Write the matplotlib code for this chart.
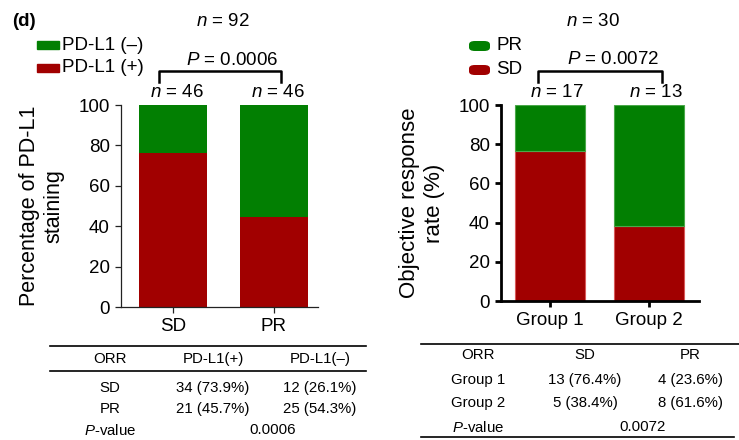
import matplotlib
matplotlib.use("Agg")
import matplotlib.pyplot as plt
from matplotlib.patches import Rectangle, FancyBboxPatch
from matplotlib.lines import Line2D

plt.rcParams['font.family'] = ['Liberation Sans', 'DejaVu Sans']
plt.rcParams['mathtext.fontset'] = 'custom'
plt.rcParams['mathtext.rm'] = 'Liberation Sans'
plt.rcParams['mathtext.it'] = 'Liberation Sans:italic'

GREEN = "#027f02"
RED = "#a10000"

# left panel: PD-L1 staining by response
left_cats = ["SD", "PR"]
left_pos = [76.0, 44.5]          # PD-L1 (+), percent
left_n = [46, 46]
left_total = 92
left_p = "0.0006"

# right panel: objective response by group
right_cats = ["Group 1", "Group 2"]
right_sd = [76.4, 38.4]
right_n = [17, 13]
right_total = 30
right_p = "0.0072"

# tables under the panels
left_header = ["ORR", "PD-L1(+)", "PD-L1(\u2013)"]
left_rows = [["SD", "34 (73.9%)", "12 (26.1%)"],
             ["PR", "21 (45.7%)", "25 (54.3%)"]]
right_header = ["ORR", "SD", "PR"]
right_rows = [["Group 1", "13 (76.4%)", "4 (23.6%)"],
              ["Group 2", "5 (38.4%)", "8 (61.6%)"]]

W, H = 739, 440
fig = plt.figure(figsize=(W / 100, H / 100), dpi=100)


def fx(px):
    return px / W


def fy(py):
    return 1 - py / H


def ftext(x, y, s, **kw):
    kw.setdefault("ha", "center")
    kw.setdefault("va", "center")
    kw.setdefault("fontsize", 10.8)
    fig.text(fx(x), fy(y), s, **kw)


def fline(x0, x1, y, lw=1.2):
    fig.add_artist(Line2D([fx(x0), fx(x1)], [fy(y), fy(y)], color="black", lw=lw))


# ---- left panel
ax1 = fig.add_axes([fx(121), fy(307), fx(318) - fx(121), fy(105) - fy(307)])
x = range(len(left_cats))
neg = [100 - v for v in left_pos]
ax1.bar(x, left_pos, width=0.67, color=RED)
ax1.bar(x, neg, bottom=left_pos, width=0.67, color=GREEN)
ax1.set_xlim(-0.515, 1.436)
ax1.set_ylim(0, 100)
ax1.set_yticks(range(0, 101, 20))
ax1.set_xticks(list(x))
ax1.set_xticklabels(left_cats)
for s in ["top", "right"]:
    ax1.spines[s].set_visible(False)
for s in ["left", "bottom"]:
    ax1.spines[s].set_color("#222222")
    ax1.spines[s].set_linewidth(0.9)
ax1.tick_params(labelsize=13.5, length=4.5, width=0.9, color="#222222")
ax1.set_ylabel("Percentage of PD-L1\nstaining", fontsize=15.5, labelpad=10, linespacing=1.25)
for i, n in enumerate(left_n):
    ax1.text(i + 0.04, 106.4, f"$n$ = {n}", ha="center", va="center",
             fontsize=13.5, clip_on=False)
ax1.plot([-0.14, -0.14, 1.07, 1.07], [111.4, 116.8, 116.8, 111.4],
         color="black", lw=1.8, clip_on=False)
ax1.text(0.584, 121.8, f"$P$ = {left_p}", ha="center", va="center",
         fontsize=13.5, clip_on=False)

# ---- right panel
ax2 = fig.add_axes([fx(501), fy(301), fx(699) - fx(501), fy(105) - fy(301)])
x = range(len(right_cats))
pr = [100 - v for v in right_sd]
ax2.bar(x, right_sd, width=0.70, color=RED, edgecolor="#d85a5a", linewidth=0.8)
ax2.bar(x, pr, bottom=right_sd, width=0.70, color=GREEN, edgecolor="#4aa84a", linewidth=0.8)
ax2.set_xlim(-0.495, 1.505)
ax2.set_ylim(0, 100)
ax2.set_yticks(range(0, 101, 20))
ax2.set_xticks(list(x))
ax2.set_xticklabels(right_cats)
for s in ["top", "right"]:
    ax2.spines[s].set_visible(False)
for s in ["left", "bottom"]:
    ax2.spines[s].set_linewidth(2.0)
ax2.tick_params(labelsize=13.5, length=4.5, width=2.0)
ax2.set_ylabel("Objective response\nrate (%)", fontsize=16, labelpad=10, linespacing=1.25)
for i, n in enumerate(right_n):
    ax2.text(i + 0.07, 106.6, f"$n$ = {n}", ha="center", va="center",
             fontsize=13.5, clip_on=False)
ax2.plot([-0.12, -0.12, 1.13, 1.13], [111.7, 117.3, 117.3, 111.7],
         color="black", lw=1.8, clip_on=False)
ax2.text(0.636, 123, f"$P$ = {right_p}", ha="center", va="center",
         fontsize=13.5, clip_on=False)

# ---- headings and legends
ftext(12, 22, "(d)", ha="left", fontsize=13.5, fontweight="bold")
ftext(223, 22, f"$n$ = {left_total}", fontsize=13.5)
ftext(593, 22, f"$n$ = {right_total}", fontsize=13.5)

for y, c, lab in [(45, GREEN, "PD-L1 (\u2013)"), (68, RED, "PD-L1 (+)")]:
    fig.add_artist(Rectangle((fx(37), fy(y + 4)), fx(59) - fx(37), fy(y - 4) - fy(y + 4),
                             color=c, transform=fig.transFigure))
    ftext(62, y, lab, ha="left", fontsize=13.5)

for y, c, lab in [(46, GREEN, "PR"), (70, RED, "SD")]:
    fig.add_artist(FancyBboxPatch((fx(469), fy(y + 5)), fx(490) - fx(469), fy(y - 5) - fy(y + 5),
                                  boxstyle="round,pad=0,rounding_size=0.008",
                                  facecolor=c, edgecolor="none", transform=fig.transFigure))
    ftext(496, y, lab, ha="left", fontsize=13.5)

# ---- left table
cols = [110, 213, 320]
fline(50, 366, 346)
fline(50, 366, 371)
for cx, s in zip(cols, left_header):
    ftext(cx, 359, s)
for ry, row in zip([388, 409], left_rows):
    for cx, s in zip(cols, row):
        ftext(cx, ry, s)
ftext(cols[0], 430, "$P$-value")
ftext(273, 430, left_p)

# ---- right table
cols = [478, 585, 690]
fline(421, 739, 344)
fline(421, 734, 437)
for cx, s in zip(cols, right_header):
    ftext(cx, 355, s)
for ry, row in zip([380, 403], right_rows):
    for cx, s in zip(cols, row):
        ftext(cx, ry, s)
ftext(cols[0], 427, "$P$-value")
ftext(643, 427, right_p)

fig.savefig("out.png", dpi=100)
